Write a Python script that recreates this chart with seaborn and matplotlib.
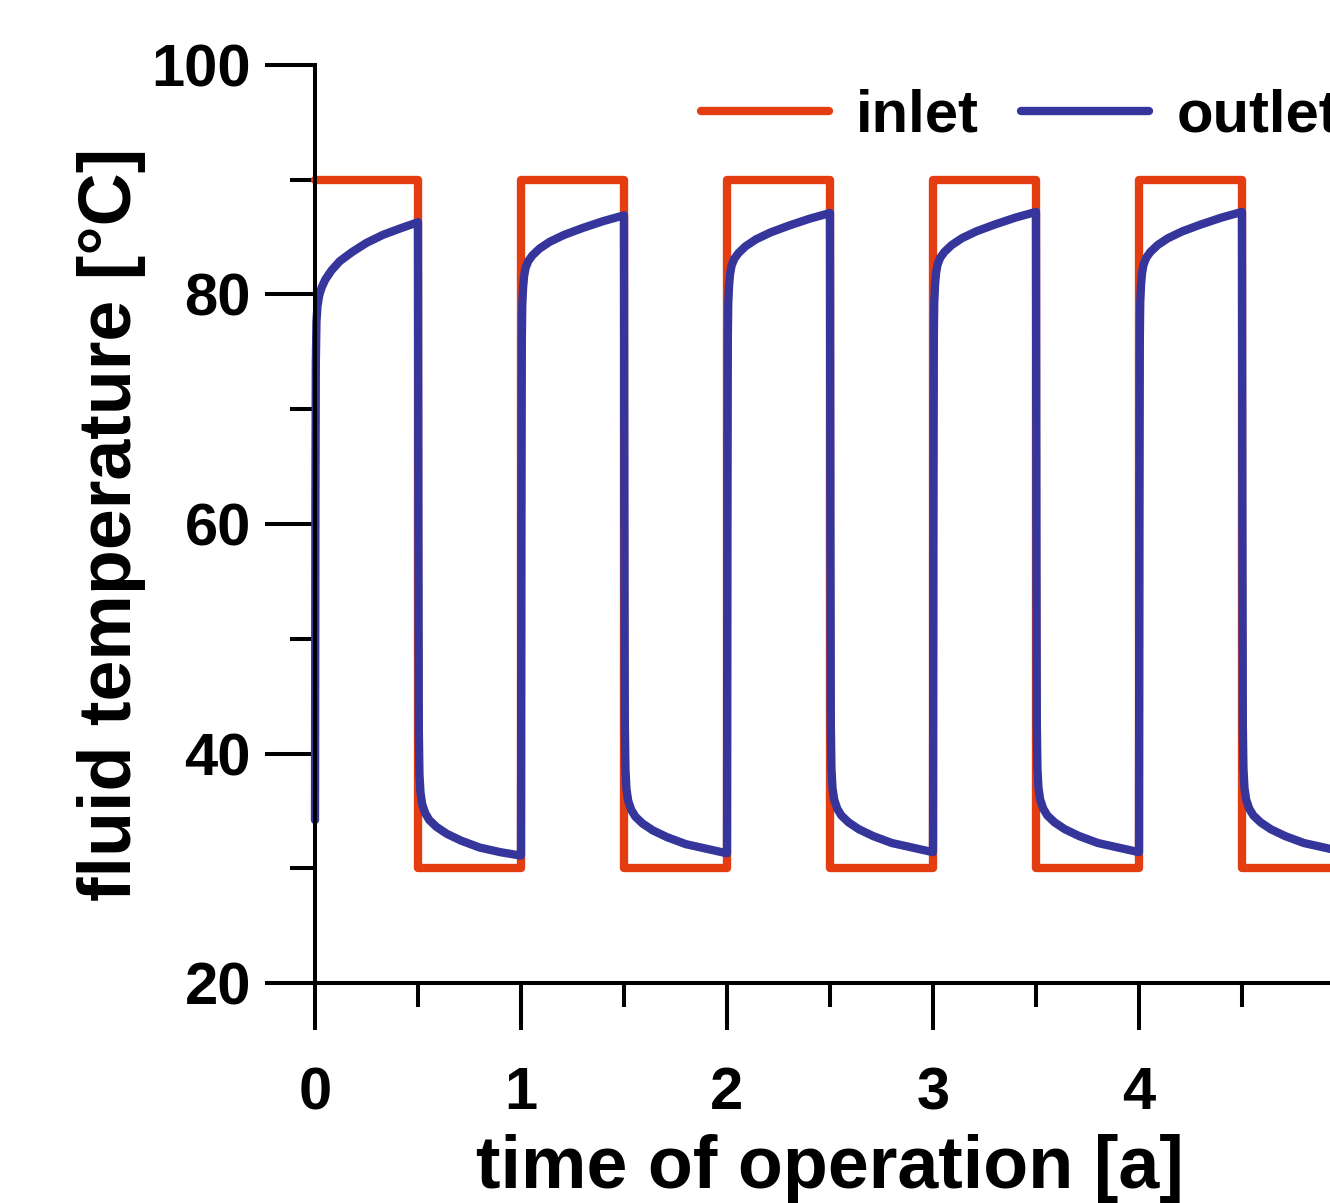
import pandas as pd
import matplotlib.pyplot as plt
import seaborn as sns

# -----------------------------------
# data
# -----------------------------------
inlet_time = [0, 0.5, 0.5, 1, 1, 1.5, 1.5, 2, 2, 2.5, 2.5, 3, 3, 3.5, 3.5, 4, 4, 4.5, 4.5, 5]
inlet_temp = [90, 90, 30, 30, 90, 90, 30, 30, 90, 90, 30, 30, 90, 90, 30, 30, 90, 90, 30, 30]

outlet_time = [
    0.000, 0.002, 0.004, 0.007, 0.012, 0.020, 0.032, 0.050, 0.080, 0.120, 0.180, 0.250, 0.330, 0.420, 0.500,
    0.502, 0.504, 0.507, 0.512, 0.520, 0.535, 0.555, 0.590, 0.640, 0.710, 0.800, 0.900, 1.000,
    1.002, 1.004, 1.006, 1.010, 1.015, 1.022, 1.035, 1.055, 1.090, 1.140, 1.210, 1.300, 1.400, 1.500,
    1.502, 1.504, 1.507, 1.512, 1.520, 1.535, 1.555, 1.590, 1.640, 1.710, 1.800, 1.900, 2.000,
    2.002, 2.004, 2.006, 2.010, 2.015, 2.022, 2.035, 2.055, 2.090, 2.140, 2.210, 2.300, 2.400, 2.500,
    2.502, 2.504, 2.507, 2.512, 2.520, 2.535, 2.555, 2.590, 2.640, 2.710, 2.800, 2.900, 3.000,
    3.002, 3.004, 3.006, 3.010, 3.015, 3.022, 3.035, 3.055, 3.090, 3.140, 3.210, 3.300, 3.400, 3.500,
    3.502, 3.504, 3.507, 3.512, 3.520, 3.535, 3.555, 3.590, 3.640, 3.710, 3.800, 3.900, 4.000,
    4.002, 4.004, 4.006, 4.010, 4.015, 4.022, 4.035, 4.055, 4.090, 4.140, 4.210, 4.300, 4.400, 4.500,
    4.502, 4.504, 4.507, 4.512, 4.520, 4.535, 4.555, 4.590, 4.640, 4.710, 4.800, 4.900, 5.000,
]
outlet_temp = [
    34.2, 62.0, 74.0, 77.6, 79.0, 79.9, 80.6, 81.3, 82.1, 82.9, 83.7, 84.5, 85.2, 85.8, 86.3,
    60.0, 42.0, 38.2, 36.6, 35.6, 34.8, 34.2, 33.6, 33.0, 32.4, 31.8, 31.4, 31.1,
    60.0, 76.0, 79.0, 80.6, 81.6, 82.3, 82.9, 83.4, 84.0, 84.6, 85.2, 85.8, 86.4, 86.9,
    60.0, 42.5, 38.6, 36.9, 35.9, 35.1, 34.5, 33.9, 33.3, 32.7, 32.1, 31.7, 31.3,
    60.0, 76.2, 79.2, 80.8, 81.8, 82.5, 83.1, 83.6, 84.2, 84.8, 85.4, 86.0, 86.6, 87.1,
    60.0, 42.5, 38.7, 37.0, 36.0, 35.2, 34.6, 34.0, 33.4, 32.8, 32.2, 31.8, 31.4,
    60.0, 76.3, 79.3, 80.9, 81.9, 82.6, 83.2, 83.7, 84.3, 84.9, 85.5, 86.1, 86.7, 87.2,
    60.0, 42.5, 38.7, 37.0, 36.0, 35.2, 34.6, 34.0, 33.4, 32.8, 32.2, 31.8, 31.4,
    60.0, 76.3, 79.3, 80.9, 81.9, 82.6, 83.2, 83.7, 84.3, 84.9, 85.5, 86.1, 86.7, 87.2,
    60.0, 42.5, 38.7, 37.0, 36.0, 35.2, 34.6, 34.0, 33.4, 32.8, 32.2, 31.8, 31.4,
]

x_major = [0, 1, 2, 3, 4]
x_minor = [0.5, 1.5, 2.5, 3.5, 4.5]
y_major = [20, 40, 60, 80, 100]
y_minor = [30, 50, 70, 90]

inlet = pd.DataFrame({"time": inlet_time, "temp": inlet_temp})
outlet = pd.DataFrame({"time": outlet_time, "temp": outlet_temp})

# -----------------------------------
# style
# -----------------------------------
sns.set_style("ticks")
plt.rcParams['font.family'] = ['Liberation Sans', 'DejaVu Sans']
plt.rcParams['font.weight'] = 'bold'
plt.rcParams['text.color'] = 'black'
plt.rcParams['axes.labelcolor'] = 'black'
plt.rcParams['xtick.color'] = 'black'
plt.rcParams['ytick.color'] = 'black'

red = "#E43D12"
blue = "#35359B"
lw = 6.0

fig = plt.figure(figsize=(13.3, 12.03), dpi=100)
ax = fig.add_axes([315 / 1330, 220 / 1203, 1030 / 1330, 918 / 1203])

# -----------------------------------
# lines
# -----------------------------------
sns.lineplot(data=inlet, x="time", y="temp", ax=ax, color=red, lw=lw,
             sort=False, estimator=None, label="inlet",
             solid_capstyle="round", solid_joinstyle="round", clip_on=False)
sns.lineplot(data=outlet, x="time", y="temp", ax=ax, color=blue, lw=lw,
             sort=False, estimator=None, label="outlet",
             solid_capstyle="round", solid_joinstyle="round", clip_on=False)

# -----------------------------------
# axes
# -----------------------------------
ax.set_xlim(0, 5)
ax.set_ylim(20, 100)
ax.set_xticks(x_major)
ax.set_xticks(x_minor, minor=True)
ax.set_yticks(y_major)
ax.set_yticks(y_minor, minor=True)

for side in ["top", "right"]:
    ax.spines[side].set_visible(False)
for side in ["left", "bottom"]:
    ax.spines[side].set_linewidth(2.9)
    ax.spines[side].set_color("black")

ax.tick_params(axis="y", which="major", length=36, width=2.9, pad=10, labelsize=43, labelcolor="black")
ax.tick_params(axis="y", which="minor", length=18, width=2.9)
ax.tick_params(axis="x", which="major", length=34, width=2.9, pad=26, labelsize=43, labelcolor="black")
ax.tick_params(axis="x", which="minor", length=17, width=2.9)

ax.set_xlabel("time of operation [a]", fontsize=53, fontweight="bold")
ax.set_ylabel("fluid temperature [°C]", fontsize=53, fontweight="bold")
ax.xaxis.set_label_coords(2.5 / 5, (983 - 1134) / 918)
ax.yaxis.set_label_coords((146 - 315) / 1030, 0.5)

ax.legend(loc="center left", bbox_to_anchor=(701 / 1330, 1 - 116 / 1203),
          bbox_transform=fig.transFigure, ncol=2, frameon=False, fontsize=43,
          handlelength=2.15, handletextpad=0.45, columnspacing=0.7,
          borderpad=0, borderaxespad=0)

fig.savefig("out.png", dpi=100)
